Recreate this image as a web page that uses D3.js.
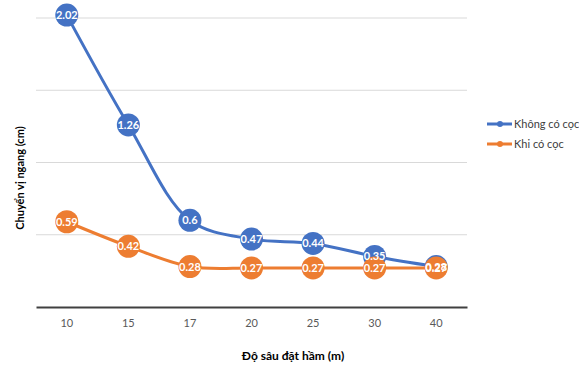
<!DOCTYPE html>
<html>
<head>
<meta charset="utf-8">
<script src="https://cdn.jsdelivr.net/npm/d3@7"></script>
<style>
  html, body { margin: 0; padding: 0; background: #ffffff; }
  svg { display: block; font-family: Lato, "Open Sans", sans-serif; }
</style>
</head>
<body>
<svg id="chart" width="579" height="367"></svg>
<script>
// Depth of the tunnel (m)
const depths = ["10", "15", "17", "20", "25", "30", "40"];
// Horizontal displacement (cm)
const withoutPiles = [2.02, 1.26, 0.6, 0.47, 0.44, 0.35, 0.28];
const withPiles = [0.59, 0.42, 0.28, 0.27, 0.27, 0.27, 0.27];
const yTicks = [0, 0.5, 1, 1.5, 2];

const series = [
  { name: "Không có cọc", values: withoutPiles, color: "#4472C4" },
  { name: "Khi có cọc", values: withPiles, color: "#ED7D31" }
];

const svg = d3.select("#chart");
const plot = { left: 36, right: 467, top: 18, bottom: 307 };

const x = d3.scaleBand().domain(depths).range([plot.left, plot.right]);
const y = d3.scaleLinear().domain([0, 2]).range([plot.bottom, plot.top]);
const cx = d => x(d) + x.bandwidth() / 2;

// Horizontal gridlines
svg.append("g")
  .selectAll("line")
  .data(yTicks.filter(t => t > 0))
  .join("line")
  .attr("x1", plot.left).attr("x2", plot.right)
  .attr("y1", d => y(d)).attr("y2", d => y(d))
  .attr("stroke", "#d9d9d9").attr("stroke-width", 1);

// Category axis
const xAxis = svg.append("g")
  .attr("transform", `translate(0,${y(0)})`)
  .call(d3.axisBottom(x).tickSize(0).tickPadding(12));
xAxis.select(".domain").attr("stroke", "#404040").attr("stroke-width", 2);
xAxis.selectAll("text")
  .attr("fill", "#595959")
  .style("font-size", "11px")
  .style("font-family", "Lato, 'Open Sans', sans-serif");

// Axis titles
svg.append("text")
  .attr("x", 293).attr("y", 360)
  .attr("text-anchor", "middle")
  .style("font-size", "12px").style("font-weight", "bold")
  .attr("fill", "#000")
  .text("Độ sâu đặt hầm (m)");

svg.append("text")
  .attr("transform", "translate(24,178) rotate(-90)")
  .attr("text-anchor", "middle")
  .style("font-size", "11px").style("font-weight", "bold")
  .attr("fill", "#000")
  .text("Chuyển vị ngang (cm)");

// Smoothed lines
const line = d3.line()
  .x((d, i) => cx(depths[i]))
  .y(d => y(d))
  .curve(d3.curveCatmullRom.alpha(0.5));

const pointsOf = s => s.values.map((v, i) => ({ v, d: depths[i], color: s.color }));

// Each series: line then markers, in series order
series.forEach(s => {
  const g = svg.append("g");
  g.append("path")
    .attr("d", line(s.values))
    .attr("fill", "none")
    .attr("stroke", s.color)
    .attr("stroke-width", 3);
  g.selectAll("circle")
    .data(pointsOf(s))
    .join("circle")
    .attr("cx", p => cx(p.d))
    .attr("cy", p => y(p.v))
    .attr("r", 11.5)
    .attr("fill", s.color);
});

// Value labels above all markers
series.forEach(s => {
  svg.append("g")
    .selectAll("text")
    .data(pointsOf(s))
    .join("text")
    .attr("x", p => cx(p.d))
    .attr("y", p => y(p.v))
    .attr("text-anchor", "middle")
    .attr("dy", "0.36em")
    .attr("fill", "#ffffff")
    .style("font-size", "11px")
    .style("font-weight", "bold")
    .text(p => String(p.v));
});

// Legend
const legend = svg.append("g");
series.forEach((s, i) => {
  const ly = 124 + i * 20;
  legend.append("line")
    .attr("x1", 487).attr("x2", 512)
    .attr("y1", ly).attr("y2", ly)
    .attr("stroke", s.color).attr("stroke-width", 3);
  legend.append("circle")
    .attr("cx", 500).attr("cy", ly).attr("r", 3)
    .attr("fill", s.color);
  legend.append("text")
    .attr("x", 514).attr("y", ly)
    .attr("dy", "0.35em")
    .attr("fill", "#404040")
    .style("font-size", "11px")
    .text(s.name);
});
</script>
</body>
</html>
